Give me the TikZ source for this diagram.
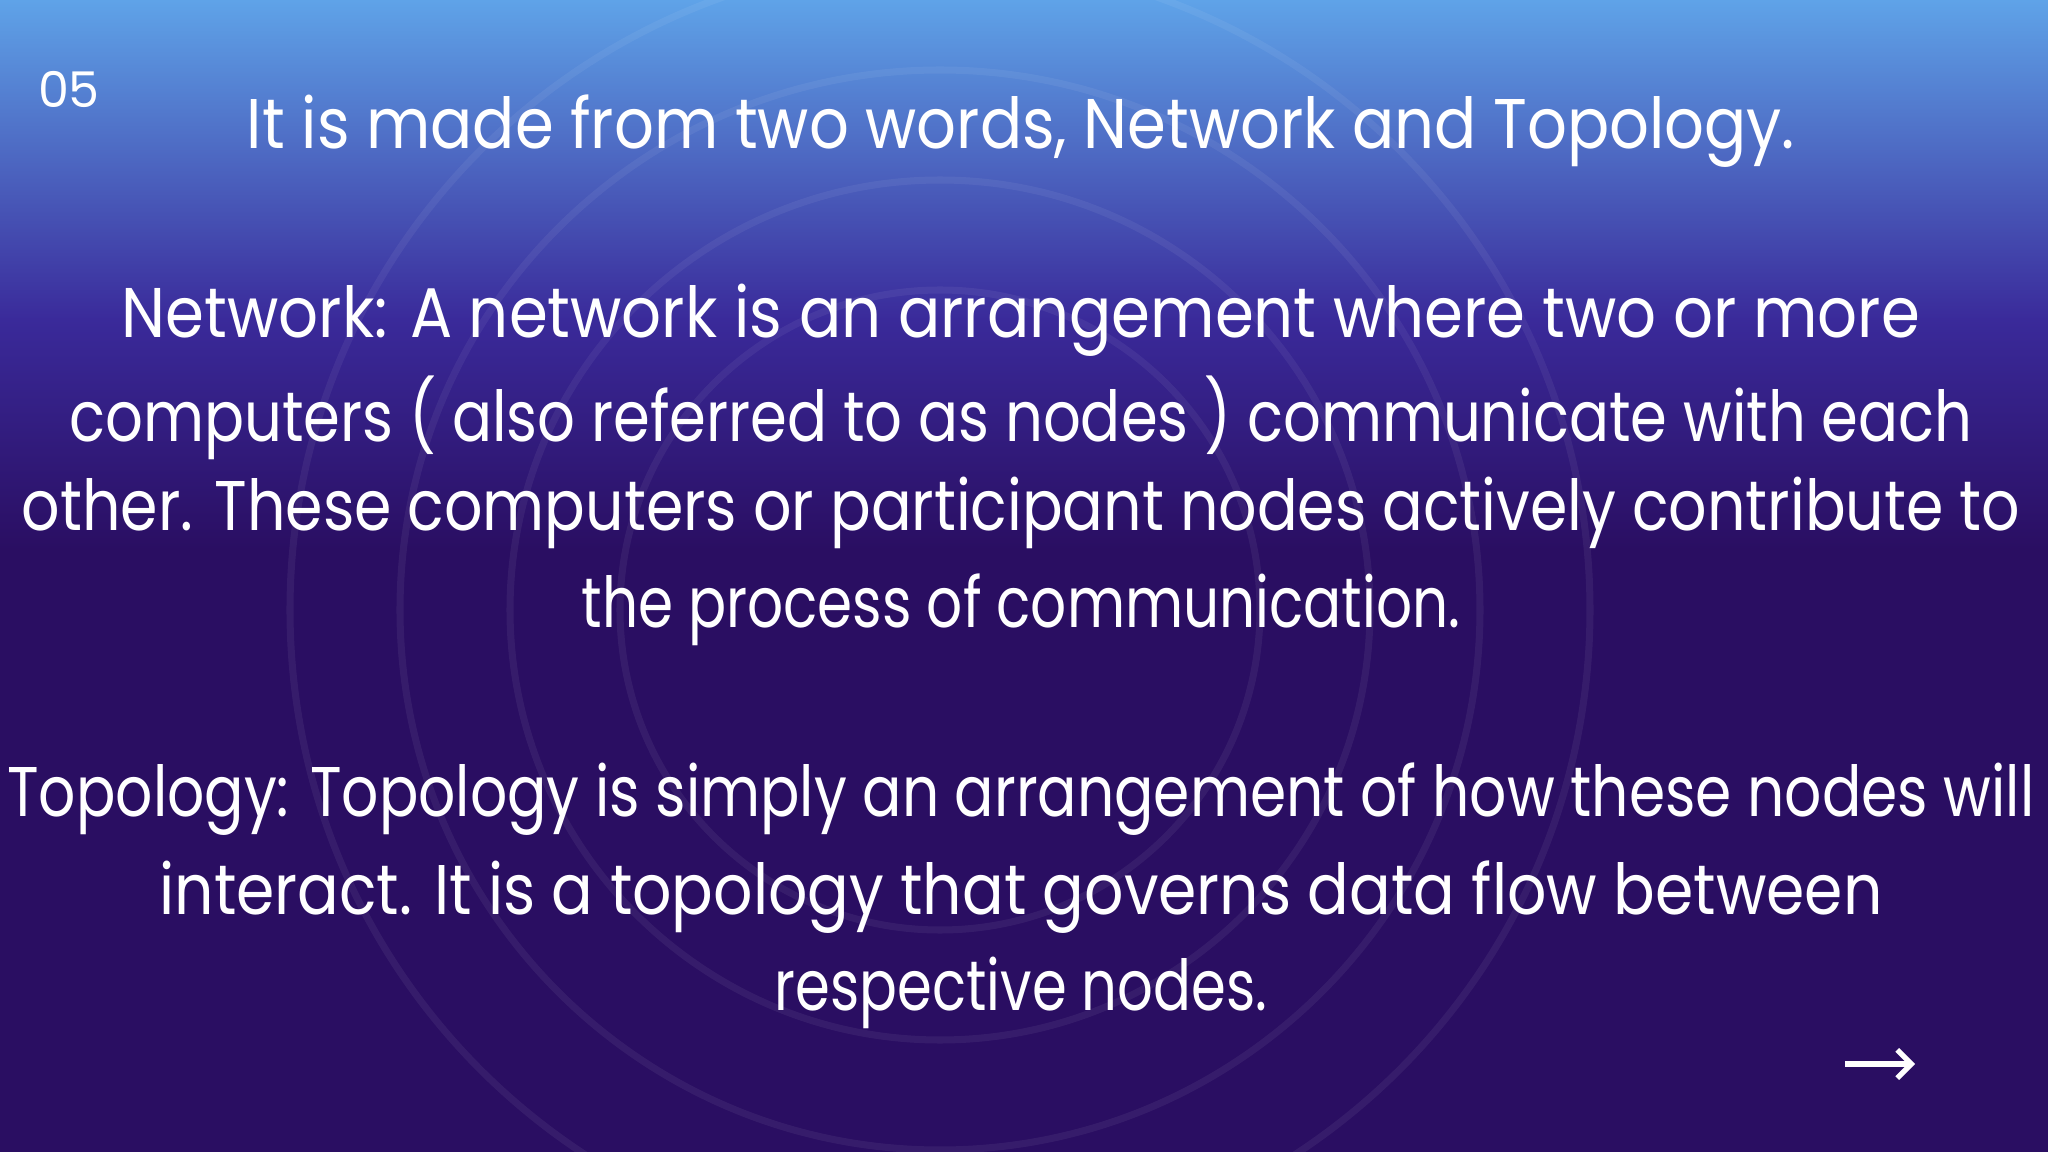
\documentclass[tikz,border=0pt]{standalone}
\usepackage{fontspec}
\usepackage{graphicx}
\setmainfont{Poppins}
\usetikzlibrary{arrows.meta}
\definecolor{topc}{HTML}{5FA3E8}
\definecolor{midc}{HTML}{3A2A9A}
\definecolor{botc}{HTML}{2A0E62}
\tikzset{txt/.style={text=white,font=\fontsize{20}{24}\selectfont,inner sep=0pt,anchor=center},
ring/.style={draw=white,draw opacity=0.06,line width=2pt}}
\newcommand{\fitw}[2]{\resizebox{#1cm}{\height}{#2}}
\begin{document}
\begin{tikzpicture}[x=1cm,y=-1cm]
\useasboundingbox (0,0) rectangle (20.48,11.52);
\fill[botc] (0,0) rectangle (20.48,11.52);
\shade[top color=topc,bottom color=midc] (0,0) rectangle (20.48,3.2);
\shade[top color=midc,bottom color=botc] (0,3.19) rectangle (20.48,5.5);
\foreach \r in {3.2,4.3,5.4,6.5} \draw[ring] (9.4,6.1) circle (\r);
\node[txt,font=\fontsize{14}{16}\selectfont] (num) at (0.69,0.89) {05};
\node[txt] (l1) at (10.21,1.31) {\fitw{15.48}{It is made from two words, Network and Topology.}};
\node[txt] (l2) at (10.21,3.20) {\fitw{17.98}{Network: A network is an arrangement where two or more}};
\node[txt] (l3) at (10.21,4.18) {\fitw{19.03}{computers ( also referred to as nodes ) communicate with each}};
\node[txt] (l4) at (10.21,5.13) {\fitw{19.98}{other. These computers or participant nodes actively contribute to}};
\node[txt] (l5) at (10.21,6.10) {\fitw{8.79}{the process of communication.}};
\node[txt] (l6) at (10.21,7.99) {\fitw{20.27}{Topology: Topology is simply an arrangement of how these nodes will}};
\node[txt] (l7) at (10.21,8.97) {\fitw{17.23}{interact. It is a topology that governs data flow between}};
\node[txt] (l8) at (10.21,9.93) {\fitw{4.92}{respective nodes.}};
\coordinate (a1) at (18.45,10.64);
\coordinate (a2) at (19.15,10.64);
\draw[white,line width=1.5pt,-{Straight Barb[length=4pt]}] (a1) -- (a2);
\end{tikzpicture}
\end{document}
